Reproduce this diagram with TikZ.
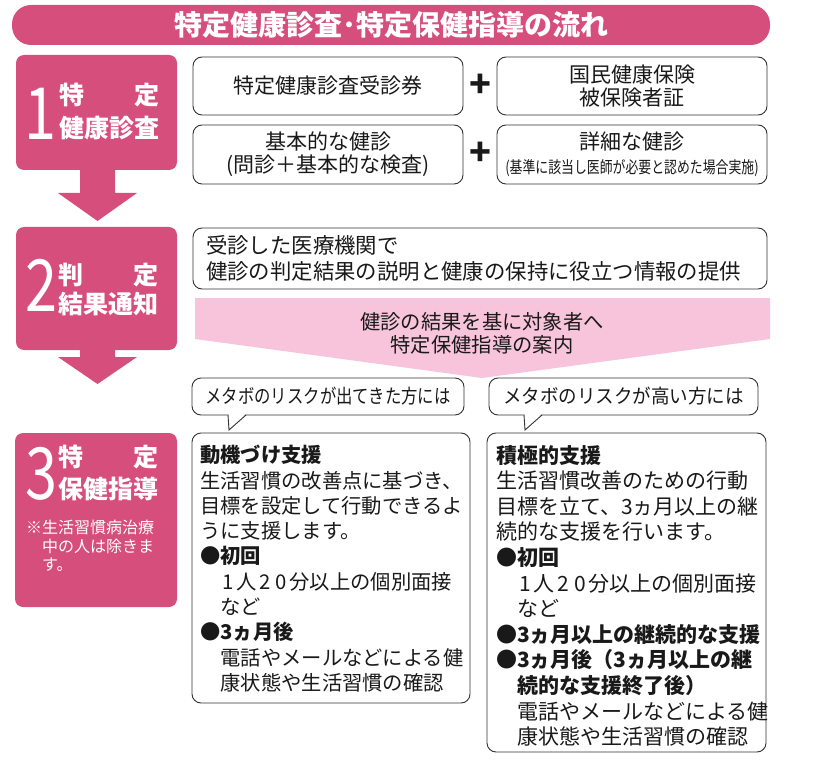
\documentclass[tikz,border=0pt]{standalone}
\usepackage{fontspec}
\usepackage{graphicx}
\setmainfont{Noto Sans CJK JP}
\usetikzlibrary{calc}
\definecolor{mag}{RGB}{214,78,124}
\definecolor{lpink}{RGB}{247,196,220}
\definecolor{edge}{RGB}{50,50,50}
\definecolor{ink}{RGB}{25,25,25}
\newcommand\dgt[1]{\makebox[0.8em]{#1}}
\pgfdeclarehorizontalshading{pinkfade}{100bp}{color(0bp)=(white); color(20bp)=(lpink); color(80bp)=(lpink); color(100bp)=(white)}
\tikzset{
  pinkbox/.style={fill=mag, rounded corners=8pt, draw=none, inner sep=0pt},
  wbox/.style={draw=edge, line width=0.9pt, fill=white, rounded corners=9pt, inner sep=0pt, text=ink},
  txt/.style={inner sep=0pt, text=ink},
  wlab/.style={inner sep=0pt, text=white, font=\bfseries\fontsize{25}{28}\selectfont},
  bignum/.style={inner sep=0pt, text=white, anchor=base, font=\fontsize{72}{72}\selectfont},
  plus/.style={inner sep=0pt, text=ink, font=\bfseries\fontsize{36}{36}\selectfont},
}
\begin{document}
\begin{tikzpicture}[x=1pt,y=-1pt]
\useasboundingbox (0,0) rectangle (819,762);

% title bar
\node[fill=mag, rounded corners=19pt, minimum width=758pt, minimum height=40pt, inner sep=0pt,
      text=white, font=\bfseries\fontsize{28}{30}\selectfont] (title) at (391,25) {特定健康診査･特定保健指導の流れ};

% left step boxes
\node[pinkbox, minimum width=161pt, minimum height=115pt] (s1) at (96.5,112.5) {};
\node[pinkbox, minimum width=161pt, minimum height=123pt] (s2) at (96.5,288.5) {};
\node[pinkbox, minimum width=162pt, minimum height=174pt] (s3) at (96,520) {};

% arrows between steps
\fill[mag] (80,169) -- (115,169) -- (115,193) -- (137,193) -- (97.5,221) -- (58,193) -- (80,193) -- cycle;
\fill[mag] (80,349) -- (115,349) -- (115,357) -- (137,357) -- (97.5,384) -- (58,357) -- (80,357) -- cycle;

% step labels
\node[bignum] (n1) at (40,140) {\scalebox{0.8}[1]{1}};
\node[wlab] (l1a) at (109,95) {\makebox[100pt]{特\hfill 定}};
\node[wlab] (l1b) at (109,128) {健康診査};

\node[bignum] (n2) at (41,311) {\scalebox{0.8}[1]{2}};
\node[wlab] (l2a) at (108,275) {\makebox[100pt]{判\hfill 定}};
\node[wlab] (l2b) at (108,303.5) {結果通知};

\node[bignum] (n3) at (41,499) {\scalebox{0.8}[1]{3}};
\node[wlab] (l3a) at (108,457) {\makebox[100pt]{特\hfill 定}};
\node[wlab] (l3b) at (108,489) {保健指導};
\node[inner sep=0pt, text=white, anchor=north west, align=left, font=\fontsize{16}{18.5}\selectfont] (note) at (26,520)
  {※生活習慣病治療\\\hspace*{1em}中の人は除きま\\\hspace*{1em}す。};

% step 1 boxes
\node[wbox, minimum width=270pt, minimum height=58pt, font=\fontsize{21}{23}\selectfont] (tb1) at (328,86) {特定健康診査受診券};
\node[wbox, minimum width=270pt, minimum height=58pt, align=center, font=\fontsize{21}{23}\selectfont] (tb2) at (632,86) {国民健康保険\\被保険者証};
\node[wbox, minimum width=270pt, minimum height=59pt, align=center, font=\fontsize{21}{23}\selectfont] (tb3) at (328,154.5) {基本的な健診\\(問診＋基本的な検査)};
\node[wbox, minimum width=270pt, minimum height=59pt, align=center, font=\fontsize{21}{24}\selectfont] (tb4) at (632,154.5)
  {詳細な健診\\{\fontsize{16.5}{18}\selectfont\scalebox{0.78}[1]{(基準に該当し医師が必要と認めた場合実施)}}};
\node[plus] (p1) at (480,86) {+};
\node[plus] (p2) at (480,154) {+};

% step 2 box
\node[wbox, minimum width=574pt, minimum height=61pt, inner xsep=13pt, text width=548pt, align=left,
      font=\fontsize{21.4}{26}\selectfont] (r2) at (480,258.5)
  {受診した医療機関で\\健診の判定結果の説明と健康の保持に役立つ情報の提供};

% light pink guide arrow
\shade[shading=pinkfade] (195,298) -- (770,298) -- (770,339) -- (482,378) -- (195,339) -- cycle;
\node[txt, align=center, font=\fontsize{20.3}{23}\selectfont] (guide) at (482,333.5)
  {健診の結果を基に対象者へ\\特定保健指導の案内};

% speech bubbles
\node[wbox, minimum width=272pt, minimum height=37pt, font=\fontsize{19.5}{21}\selectfont] (bub1) at (328,396.5)
  {\scalebox{0.84}[1]{メタボのリスクが出てきた方には}};
\fill[white] (228.6,414) -- (229,430) -- (245.4,414) -- cycle;
\draw[edge, line width=0.9pt] (228,415) -- (229,430) -- (246,415);

\node[wbox, minimum width=269pt, minimum height=37pt, font=\fontsize{19.5}{21}\selectfont] (bub2) at (623.5,396.5)
  {\scalebox{0.95}[1]{メタボのリスクが高い方には}};
\fill[white] (524.6,414) -- (525,430) -- (541.4,414) -- cycle;
\draw[edge, line width=0.9pt] (524,415) -- (525,430) -- (542,415);

% guidance detail boxes
\node[wbox, minimum width=278pt, minimum height=270pt] (d1) at (331,568) {};
\node[wbox, minimum width=279pt, minimum height=319pt] (d2) at (626.5,592.5) {};

\node[txt, anchor=north west, align=left, font=\fontsize{20.3}{25.3}\selectfont] (d1t) at (200,445)
  {\textbf{動機づけ支援}\\
   生活習慣の改善点に基づき、\\
   目標を設定して行動できるよ\\
   うに支援します。\\
   \textbf{●初回}\\
   \hspace*{1em}\dgt{1}人\dgt{2}\dgt{0}分以上の個別面接\\
   \hspace*{1em}など\\
   \textbf{●3ヵ月後}\\
   \hspace*{1em}電話やメールなどによる健\\
   \hspace*{1em}康状態や生活習慣の確認};

\node[txt, anchor=north west, align=left, font=\fontsize{21}{25.6}\selectfont] (d2t) at (496,445)
  {\textbf{積極的支援}\\
   生活習慣改善のための行動\\
   目標を立て、3ヵ月以上の継\\
   続的な支援を行います。\\
   \textbf{●初回}\\
   \hspace*{1em}\dgt{1}人\dgt{2}\dgt{0}分以上の個別面接\\
   \hspace*{1em}など\\
   \textbf{●3ヵ月以上の継続的な支援}\\
   \textbf{●3ヵ月後（3ヵ月以上の継}\\
   \hspace*{1em}\textbf{続的な支援終了後）}\\
   \hspace*{1em}電話やメールなどによる健\\
   \hspace*{1em}康状態や生活習慣の確認};
\end{tikzpicture}
\end{document}
